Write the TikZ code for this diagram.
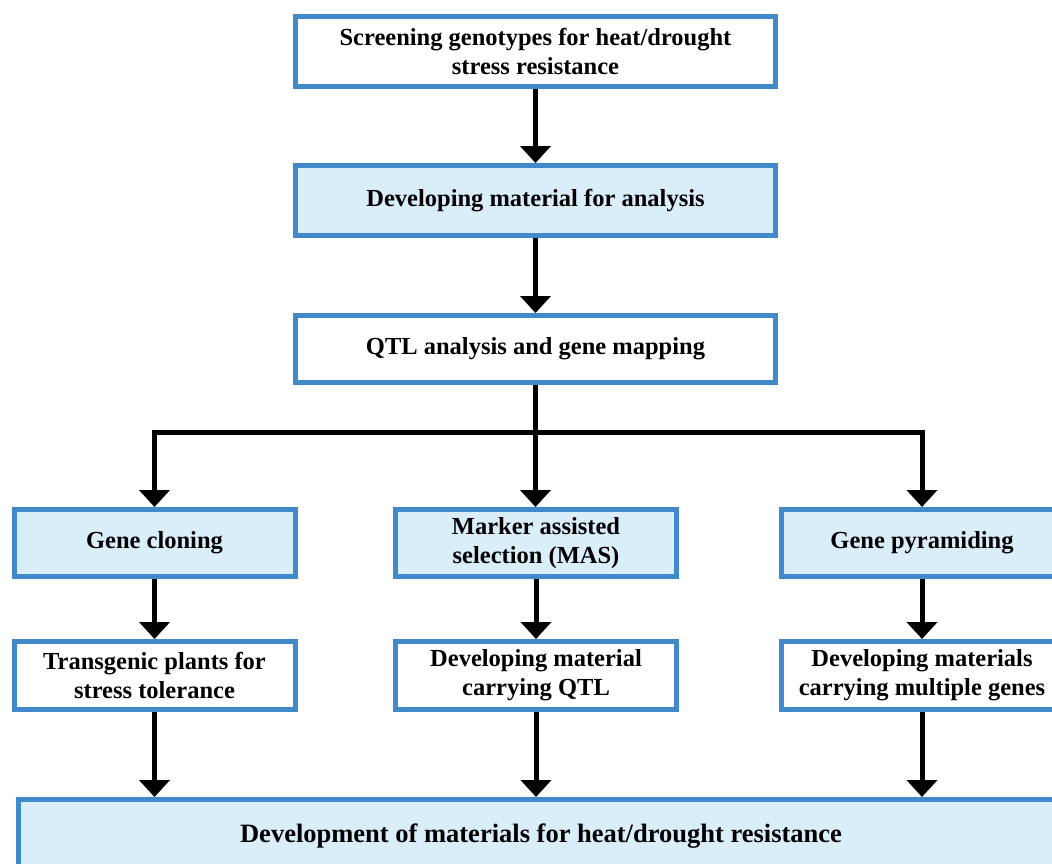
\documentclass[tikz,border=0pt]{standalone}
\usepackage{fontspec}
\setmainfont{Liberation Serif}
\usetikzlibrary{arrows.meta}
\definecolor{boxline}{HTML}{4189C8}
\definecolor{boxfill}{HTML}{DAEEFA}
\begin{document}
\begin{tikzpicture}[x=1pt,y=-1pt,>={Triangle[width=30pt,length=17pt]},
  box/.style = {draw=boxline, line width=5pt, fill=white, align=center, inner sep=0pt,
                font=\bfseries\fontsize{24.5}{29}\selectfont},
  wide/.style = {box, minimum width=480pt, minimum height=70pt},
  small/.style = {box, minimum width=281pt, minimum height=67pt},
  blue/.style = {fill=boxfill},
  arr/.style = {->, line width=5pt, black},]
\useasboundingbox (0,0) rectangle (1052,863);
\clip (0,0) rectangle (1052,863);
\node (S) at (535.5,51)[wide] {Screening genotypes for heat/drought\\stress resistance};
\node (D) at (535.5,200.5)[wide,blue] {Developing material for analysis};
\node (Q) at (535.5,349)[wide,minimum height=67pt] {QTL analysis and gene mapping};
\node (C) at (154.5,543)[small,blue] {Gene cloning};
\node (M) at (536,543)[small,blue] {Marker assisted\\selection (MAS)};
\node (P) at (922,543)[small,blue] {Gene pyramiding};
\node (T) at (154.5,675.5)[small,minimum height=68pt] {Transgenic plants for\\stress tolerance};
\node (K) at (536,675.5)[small,minimum height=68pt] {Developing material\\carrying QTL};
\node (G) at (922,675.5)[small,minimum height=68pt] {Developing materials\\carrying multiple genes};
\node (F) at (541,836)[box,blue,minimum width=1045pt,minimum height=73pt,
  font=\bfseries\fontsize{26.5}{32}\selectfont] {Development of materials for heat/drought resistance};
\coordinate (b) at (535,432);

\draw[arr] (S)--(D);
\draw[arr] (D)--(Q);
\draw[arr] (Q)--(Q|-M.north);
\draw[arr] (b)-|(C);
\draw[arr] (b)-|(P);
\draw[arr] (C)--(T);
\draw[arr] (M)--(K);
\draw[arr] (P)--(G);
\draw[arr] (T)--(T|-F.north);
\draw[arr] (K)--(K|-F.north);
\draw[arr] (G)--(G|-F.north);
\end{tikzpicture}
\end{document}
